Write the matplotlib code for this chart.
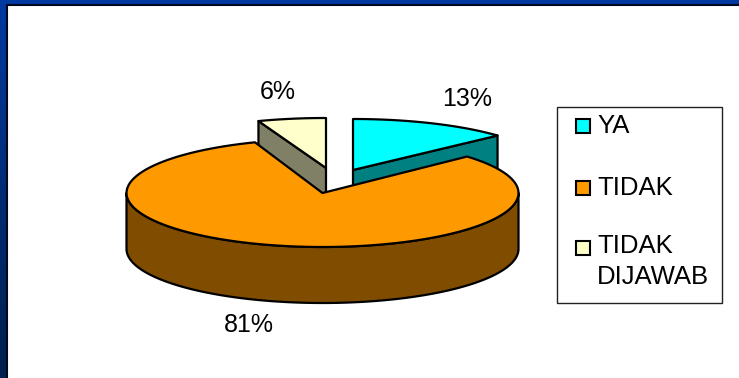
import numpy as np
import matplotlib
matplotlib.use('Agg')
import matplotlib.pyplot as plt
from matplotlib.patches import Polygon, Rectangle

categories = ['YA', 'TIDAK', 'TIDAK\nDIJAWAB']
values = [13.2, 81.2, 5.6]
value_labels = ['13%', '81%', '6%']
colors = ['#00FFFF', '#FF9900', '#FFFFCC']
side_colors = ['#008080', '#804C00', '#808066']

plt.rcParams['font.family'] = ['Liberation Sans', 'DejaVu Sans']

rx, depth = 196, 56
center = (322.5, 193)
offsets = [(30.5, -23), (0, 0), (3.5, -25)]
squash = [51, 54, 50]


def rim(cx, cy, ry, a0, a1):
    # angles are clockwise from 12 o'clock, ellipse squashed for the tilt
    a = np.radians(np.linspace(a0, a1, 120))
    return np.column_stack([cx + rx * np.sin(a), cy - ry * np.cos(a)])


def draw_slice(ax, a0, a1, off, ry, color, side):
    cx, cy = center[0] + off[0], center[1] + off[1]
    apex = np.array([cx, cy])
    arc = rim(cx, cy, ry, a0, a1)
    drop = np.array([0, depth])
    edge = dict(edgecolor='black', linewidth=1.6, joinstyle='round')
    # cut faces, only the ones turned to the viewer
    if 0 < a1 < 180:
        ax.add_patch(Polygon([apex, arc[-1], arc[-1] + drop, apex + drop], facecolor=side, **edge))
    if 180 < a0 < 360:
        ax.add_patch(Polygon([apex, arc[0], arc[0] + drop, apex + drop], facecolor=side, **edge))
    # outer wall, front half of the rim
    lo, hi = max(a0, 90), min(a1, 270)
    if hi > lo:
        front = rim(cx, cy, ry, lo, hi)
        ax.add_patch(Polygon(np.vstack([front, front[::-1] + drop]), facecolor=side, **edge))
    ax.add_patch(Polygon(np.vstack([apex, arc]), facecolor=color, **edge))


fig = plt.figure(figsize=(7.39, 3.78), dpi=100)

# blue slide background behind the white panel
bg = fig.add_axes([0, 0, 1, 1], zorder=0)
grad = np.linspace(0, 1, 256)[:, None, None] * np.array([[[0x00, 0x1f - 0x3a, 0x4c - 0xa0]]]) + np.array([0x00, 0x3a, 0xa0])
bg.imshow(grad.astype(np.uint8), aspect='auto', extent=[0, 739, 378, 0])
bg.axis('off')

ax = fig.add_axes([0, 0, 1, 1], zorder=1)
ax.set_xlim(0, 739)
ax.set_ylim(378, 0)
ax.axis('off')
ax.patch.set_alpha(0)
ax.add_patch(Rectangle((7, 5), 740, 380, facecolor='white', edgecolor='#000820', linewidth=1.5))

# slice angles come from the values, clockwise from the top
total = sum(values)
ends = np.cumsum(values) / total * 360
starts = np.concatenate([[0], ends[:-1]])

for i in (2, 0, 1):
    draw_slice(ax, starts[i], ends[i], offsets[i], squash[i], colors[i], side_colors[i])

label_pos = [(467, 99), (249, 325), (278, 92)]
for txt, (x, y) in zip(value_labels, label_pos):
    ax.text(x, y, txt, fontsize=18, ha='center', va='center', color='black')

# legend box
ax.add_patch(Rectangle((557, 107), 165, 196, facecolor='white', edgecolor='#222222', linewidth=1))
legend_y = [114, 176, 234]
swatch_y = [126, 188, 248]
for name, c, ty, sy in zip(categories, colors, legend_y, swatch_y):
    ax.add_patch(Rectangle((575.5, sy - 7), 14, 14, facecolor=c, edgecolor='black', linewidth=1.5))
    ax.text(597, ty, name, fontsize=18.5, ha='left', va='top', color='black', linespacing=1.38)

fig.savefig('out.png', dpi=100)
